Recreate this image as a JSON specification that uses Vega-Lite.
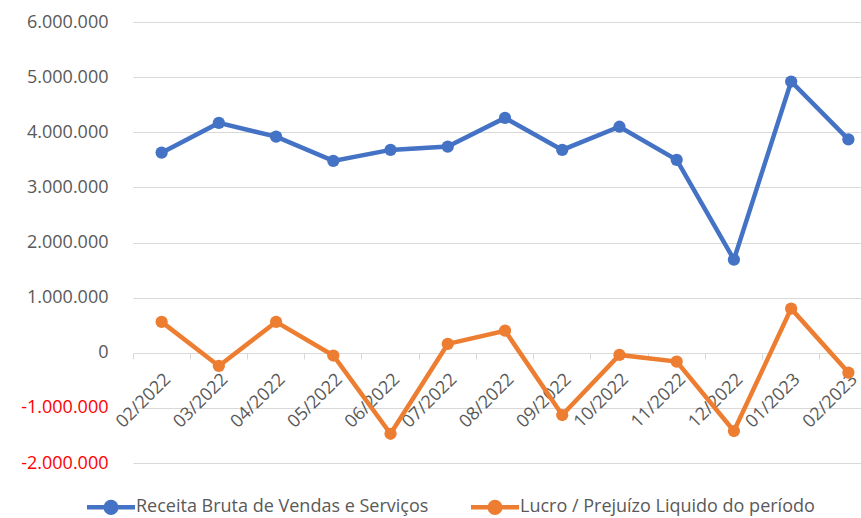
{
  "$schema": "https://vega.github.io/schema/vega-lite/v6.json",
  "width": 744,
  "height": 441,
  "autosize": {"type": "none"},
  "padding": {"left": 133, "top": 22, "right": 0, "bottom": 55},
  "config": {
    "locale": {"number": {"decimal": ",", "thousands": ".", "grouping": [3], "currency": ["R$", ""], "minus": "-"}},
    "view": {"stroke": null},
    "font": "Open Sans"
  },
  "data": {
    "values": [
      {"mes": "02/2022", "serie": "Receita Bruta de Vendas e Serviços", "valor": 3630000},
      {"mes": "03/2022", "serie": "Receita Bruta de Vendas e Serviços", "valor": 4170000},
      {"mes": "04/2022", "serie": "Receita Bruta de Vendas e Serviços", "valor": 3920000},
      {"mes": "05/2022", "serie": "Receita Bruta de Vendas e Serviços", "valor": 3480000},
      {"mes": "06/2022", "serie": "Receita Bruta de Vendas e Serviços", "valor": 3680000},
      {"mes": "07/2022", "serie": "Receita Bruta de Vendas e Serviços", "valor": 3740000},
      {"mes": "08/2022", "serie": "Receita Bruta de Vendas e Serviços", "valor": 4260000},
      {"mes": "09/2022", "serie": "Receita Bruta de Vendas e Serviços", "valor": 3680000},
      {"mes": "10/2022", "serie": "Receita Bruta de Vendas e Serviços", "valor": 4100000},
      {"mes": "11/2022", "serie": "Receita Bruta de Vendas e Serviços", "valor": 3500000},
      {"mes": "12/2022", "serie": "Receita Bruta de Vendas e Serviços", "valor": 1690000},
      {"mes": "01/2023", "serie": "Receita Bruta de Vendas e Serviços", "valor": 4920000},
      {"mes": "02/2023", "serie": "Receita Bruta de Vendas e Serviços", "valor": 3870000},
      {"mes": "02/2022", "serie": "Lucro / Prejuízo Liquido do período", "valor": 560000},
      {"mes": "03/2022", "serie": "Lucro / Prejuízo Liquido do período", "valor": -240000},
      {"mes": "04/2022", "serie": "Lucro / Prejuízo Liquido do período", "valor": 560000},
      {"mes": "05/2022", "serie": "Lucro / Prejuízo Liquido do período", "valor": -50000},
      {"mes": "06/2022", "serie": "Lucro / Prejuízo Liquido do período", "valor": -1470000},
      {"mes": "07/2022", "serie": "Lucro / Prejuízo Liquido do período", "valor": 160000},
      {"mes": "08/2022", "serie": "Lucro / Prejuízo Liquido do período", "valor": 400000},
      {"mes": "09/2022", "serie": "Lucro / Prejuízo Liquido do período", "valor": -1130000},
      {"mes": "10/2022", "serie": "Lucro / Prejuízo Liquido do período", "valor": -40000},
      {"mes": "11/2022", "serie": "Lucro / Prejuízo Liquido do período", "valor": -160000},
      {"mes": "12/2022", "serie": "Lucro / Prejuízo Liquido do período", "valor": -1420000},
      {"mes": "01/2023", "serie": "Lucro / Prejuízo Liquido do período", "valor": 800000},
      {"mes": "02/2023", "serie": "Lucro / Prejuízo Liquido do período", "valor": -360000}
    ]
  },
  "resolve": {"axis": {"x": "independent"}},
  "layer": [
    {
      "mark": {"type": "line", "strokeWidth": 4.5, "point": {"filled": true, "size": 150, "opacity": 1}},
      "encoding": {
        "x": {
          "field": "mes", "type": "ordinal", "sort": null,
          "scale": {"type": "band", "paddingInner": 0, "paddingOuter": 0},
          "axis": {
            "title": null, "orient": "bottom", "offset": -110, "domain": false, "ticks": false, "grid": false,
            "labelAngle": -45, "labelAlign": "right", "labelBaseline": "top",
            "labelPadding": 17, "labelDx": -5, "labelFontSize": 18, "labelColor": "#595959"
          }
        },
        "y": {
          "field": "valor", "type": "quantitative",
          "scale": {"domain": [-2000000, 6000000], "nice": false, "zero": false},
          "axis": {
            "title": null, "values": [-2000000, -1000000, 0, 1000000, 2000000, 3000000, 4000000, 5000000, 6000000],
            "format": ",d", "domain": false, "ticks": false, "labelPadding": 25,
            "gridColor": "#d9d9d9", "gridWidth": 1, "labelFontSize": 18,
            "labelColor": {"condition": {"test": "datum.value < 0", "value": "#ff0000"}, "value": "#595959"}
          }
        },
        "color": {
          "field": "serie", "type": "nominal",
          "sort": ["Receita Bruta de Vendas e Serviços", "Lucro / Prejuízo Liquido do período"],
          "scale": {"domain": ["Receita Bruta de Vendas e Serviços", "Lucro / Prejuízo Liquido do período"], "range": ["#4472C4", "#ED7D31"]},
          "legend": {
            "title": null, "orient": "none", "direction": "horizontal",
            "legendX": -34, "legendY": 473, "padding": 0,
            "symbolType": "M -2.5 0 L 2.5 0 M -0.55 0 A 0.55 0.55 0 1 1 0.55 0 A 0.55 0.55 0 1 1 -0.55 0 Z",
            "symbolSize": 369, "symbolStrokeWidth": 4.5,
            "labelOffset": 13, "labelFontSize": 18, "labelColor": "#595959", "labelLimit": 500,
            "columnPadding": 32
          }
        }
      }
    },
    {
      "mark": {"type": "point", "opacity": 0},
      "encoding": {
        "x": {
          "field": "mes", "type": "ordinal", "sort": null,
          "axis": {
            "title": null, "orient": "bottom", "offset": -110, "bandPosition": 0, "labels": false, "grid": false,
            "domain": true, "domainColor": "#d9d9d9", "ticks": true, "tickColor": "#d9d9d9", "tickSize": 6
          }
        },
        "y": {"field": "valor", "type": "quantitative"}
      }
    }
  ]
}
